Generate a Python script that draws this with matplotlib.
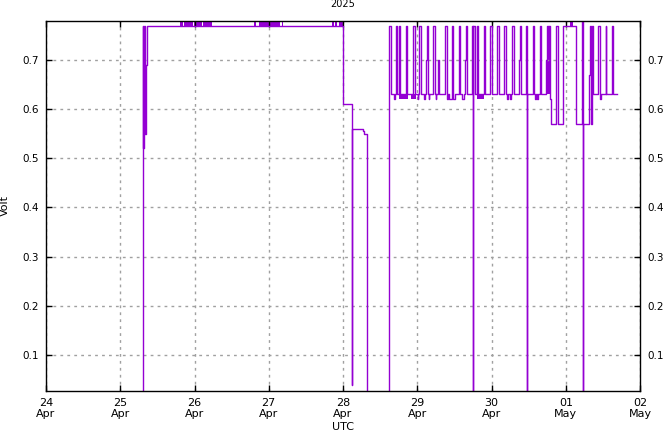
import matplotlib
matplotlib.use("Agg")
import matplotlib.pyplot as plt
import matplotlib.dates as mdates
import pandas as pd

# hours after 2025-04-24 00:00 UTC, and the logged voltage (step data)
hours = [
    0.0, 31.35, 31.45, 31.55, 31.65, 31.75, 31.85, 32.3, 32.6,
    96.1, 98.9, 98.93, 102.4, 102.8, 103.66,
    110.9, 111.4, 112.5, 112.9, 113.2, 113.35, 114.2, 114.35, 116.5, 116.65,
    118.7, 119.3, 120.2, 120.35, 120.6, 121.1, 122.2, 122.4, 122.8, 123.2,
    123.35, 123.7, 123.85, 125.2, 125.7, 125.9, 126.05, 126.7, 127.1,
    129.1, 129.6, 129.7, 130.0, 130.4, 131.1, 131.3, 131.45, 131.6, 132.2,
    133.6, 133.75, 134.5, 135.1, 135.4, 135.8, 135.95,
    137.8, 138.1, 138.12, 138.6, 139.4, 139.55, 141.7, 141.85, 143.6, 144.1,
    145.9, 146.3, 148.1, 148.6, 149.1, 149.25, 150.1, 150.25, 150.7, 151.2,
    152.9, 153.3, 153.45, 155.2, 155.55, 155.58, 157.3, 157.5, 157.65,
    158.2, 158.35, 158.8, 158.95, 159.8, 159.95, 161.6, 162.0, 163.0, 163.1,
    164.9, 165.4, 167.2, 171.2, 171.4, 173.2, 173.45, 173.48, 175.5, 175.9,
    176.05, 176.5, 176.65, 178.4, 179.1, 179.25, 180.9, 181.05, 183.0,
    183.15, 184.5,
]
volts = [
    0.0, 0.77, 0.52, 0.77, 0.53, 0.77, 0.55, 0.69, 0.77,
    0.61, 0.04, 0.56, 0.555, 0.55, 0.0,
    0.77, 0.63, 0.62, 0.63, 0.77, 0.63, 0.77, 0.63, 0.77, 0.63,
    0.77, 0.63, 0.62, 0.63, 0.77, 0.63, 0.62, 0.63, 0.70, 0.77,
    0.63, 0.62, 0.63, 0.77, 0.63, 0.62, 0.63, 0.70, 0.63,
    0.77, 0.63, 0.62, 0.63, 0.62, 0.63, 0.77, 0.69, 0.62, 0.63,
    0.77, 0.63, 0.62, 0.63, 0.70, 0.77, 0.63,
    0.77, 0.0, 0.77, 0.63, 0.77, 0.63, 0.77, 0.63, 0.77, 0.63,
    0.77, 0.63, 0.77, 0.63, 0.62, 0.63, 0.62, 0.63, 0.77, 0.63,
    0.70, 0.77, 0.63, 0.77, 0.0, 0.63, 0.70, 0.77, 0.63,
    0.62, 0.63, 0.62, 0.63, 0.77, 0.63, 0.70, 0.77, 0.62, 0.57,
    0.77, 0.57, 0.77, 0.67, 0.57, 0.78, 0.0, 0.57, 0.67, 0.77,
    0.57, 0.77, 0.63, 0.77, 0.62, 0.63, 0.77, 0.63, 0.77,
    0.63, 0.63,
]

# stretches where the reading flickers too fast to resolve (start h, end h, low, high)
band_start = [43.3, 44.6, 47.8, 50.7, 67.2, 68.8, 76.3, 92.4, 93.4, 94.7,
              169.4, 114.1, 118.0, 139.3, 162.0]
band_end = [44.3, 47.5, 50.4, 53.7, 67.9, 75.6, 76.6, 93.1, 94.1, 96.0,
            170.2, 117.1, 119.5, 141.6, 163.0]
band_low = [0.77, 0.77, 0.77, 0.77, 0.77, 0.77, 0.77, 0.77, 0.77, 0.77,
            0.77, 0.62, 0.62, 0.62, 0.63]
band_high = [0.78, 0.78, 0.78, 0.78, 0.78, 0.78, 0.78, 0.78, 0.78, 0.78,
             0.78, 0.63, 0.63, 0.63, 0.77]

start = pd.Timestamp("2025-04-24 00:00")
line_color = "#9400d3"

plt.rcParams["font.family"] = ["DejaVu Sans"]
plt.rcParams["font.size"] = 8

fig = plt.figure(figsize=(6.64, 4.32), dpi=100)
ax = fig.add_axes([46 / 664, 1 - 391 / 432, 594 / 664, 370 / 432])

times = start + pd.to_timedelta(hours, unit="h")
ax.plot(times, volts, drawstyle="steps-post", color=line_color, lw=1.0)

for t0, t1, lo, hi in zip(band_start, band_end, band_low, band_high):
    x = [start + pd.Timedelta(hours=t0), start + pd.Timedelta(hours=t1)]
    ax.fill_between(x, [lo, lo], [hi, hi], color=line_color, lw=0)

ax.set_xlim(start, pd.Timestamp("2025-05-02 00:00"))
ax.set_ylim(0.0268, 0.7793)

ax.xaxis.set_major_locator(mdates.DayLocator())
ax.xaxis.set_major_formatter(mdates.DateFormatter("%d\n%b"))
ax.set_yticks([0.1, 0.2, 0.3, 0.4, 0.5, 0.6, 0.7])

ax.tick_params(direction="in", length=4, width=1, top=True, right=True,
               labelright=True, labelsize=8)
ax.tick_params(axis="x", pad=5)
ax.tick_params(axis="y", pad=5)
for lab in ax.get_yticklabels():
    lab.set_fontsize(7.5)
for lab in ax.get_xticklabels():
    lab.set_linespacing(1.1)

ax.grid(True, color="#a0a0a0", linestyle=(0, (2, 3)), lw=1.0)
for sp in ax.spines.values():
    sp.set_color("black")
    sp.set_linewidth(1.0)

fig.text(343 / 664, 1 - 4 / 432, "2025", ha="center", va="center", fontsize=7)
fig.text(343 / 664, 1 - 427 / 432, "UTC", ha="center", va="center", fontsize=8)
fig.text(5 / 664, 1 - 206 / 432, "Volt", ha="center", va="center",
         rotation=90, fontsize=8)

fig.savefig("out.png", dpi=100)
